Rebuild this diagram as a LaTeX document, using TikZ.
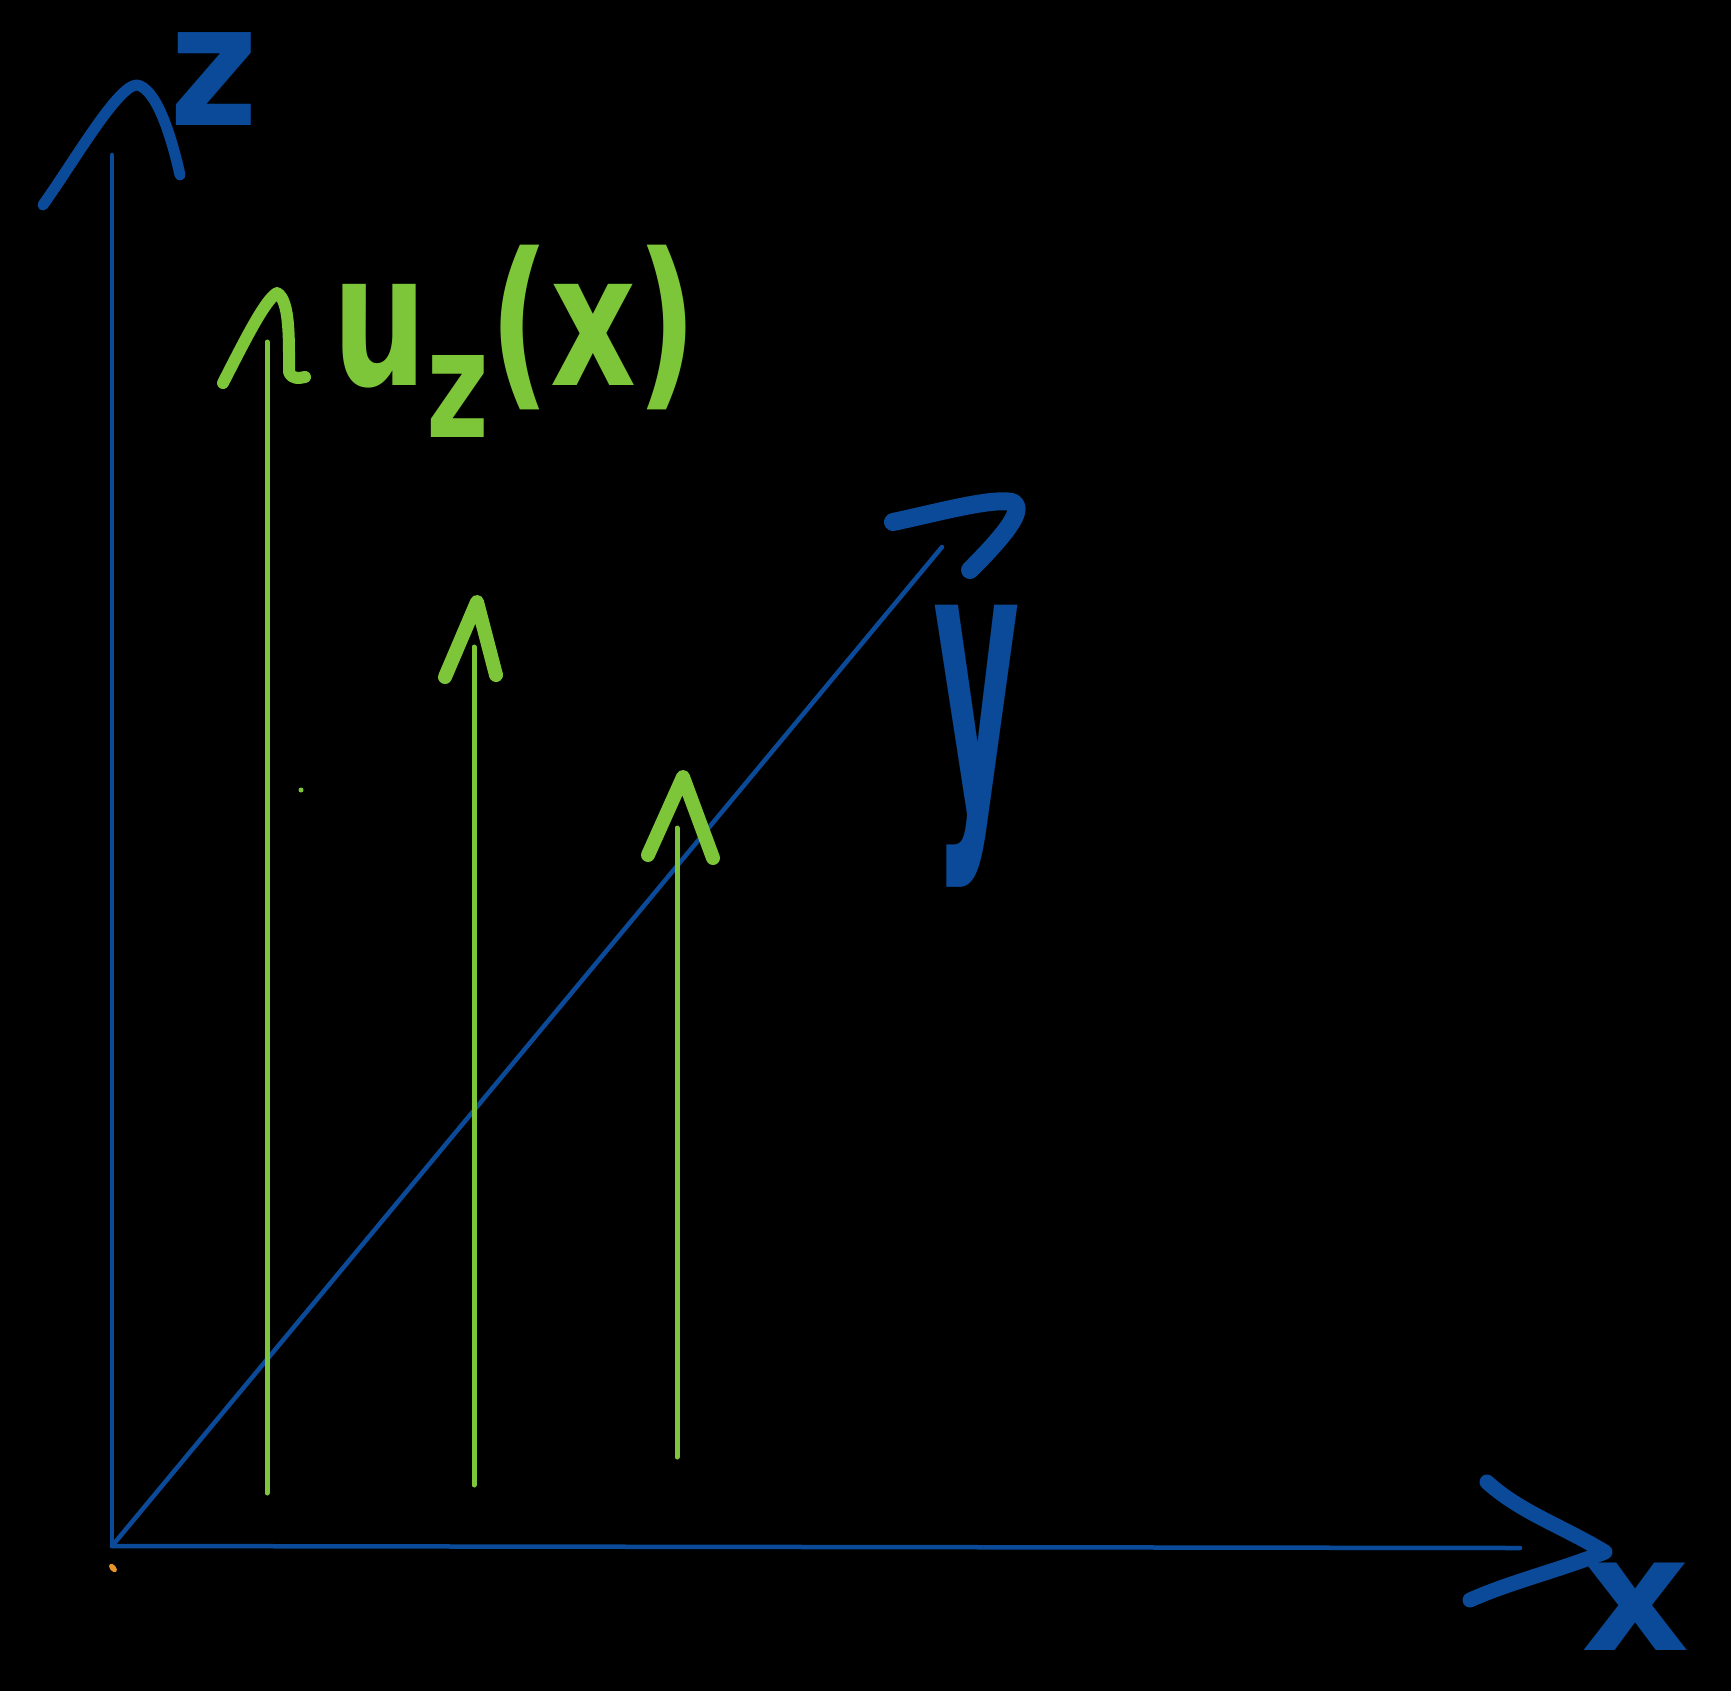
\documentclass[tikz,border=0pt]{standalone}
\usepackage{fontspec}
\setsansfont{DejaVu Sans}
\definecolor{axisblue}{RGB}{10,74,152}
\definecolor{fieldgreen}{RGB}{125,198,58}
\definecolor{dotorange}{RGB}{230,150,40}
\begin{document}
\begin{tikzpicture}[x=1pt,y=-1pt,
  axisline/.style={draw=axisblue,line width=4.5pt,line cap=round},
  headstroke/.style={draw=axisblue,line width=13pt,line cap=round,line join=round},
  fieldline/.style={draw=fieldgreen,line width=5pt,line cap=round},
  fieldhead/.style={draw=fieldgreen,line width=14pt,line cap=round,line join=round},
  axislabel/.style={text=axisblue,font=\fontsize{170}{170}\selectfont\sffamily\bfseries,inner sep=0pt,text height=0.6em,text depth=0pt},
]
\fill[black] (0,0) rectangle (1731,1691);
\useasboundingbox (0,0) rectangle (1731,1691);

% axes
\coordinate (O) at (112,1546);
\coordinate (zend) at (112,155);
\coordinate (xend) at (1520,1548);
\coordinate (yend) at (942,547);
\draw[axisline] (O) -- (zend);
\draw[axisline] (O) -- (xend);
\draw[axisline] (O) -- (yend);

% hand-drawn arrowheads of the axes
\draw[headstroke,line width=11pt] (43,205) .. controls (75,160) and (118,85) .. (137,85) .. controls (155,88) and (170,130) .. (180,175);
\draw[headstroke,line width=15pt] (1487,1482) .. controls (1520,1512) and (1560,1525) .. (1605,1552) .. controls (1560,1570) and (1510,1582) .. (1470,1600);
\draw[headstroke,line width=18pt] (893,522) .. controls (940,512) and (990,498) .. (1012,502) .. controls (1025,508) and (1010,530) .. (970,570);

% axis labels
\node[axislabel,anchor=base,xscale=0.9] (zlabel) at (214,126) {z};
\node[axislabel,font=\fontsize{160}{160}\selectfont\sffamily\bfseries,anchor=base,xscale=1.05] (xlabel) at (1636,1650) {x};
\node[axislabel,font=\fontsize{370}{370}\selectfont\sffamily\bfseries,text height=0.55em,text depth=0.24em,anchor=base,xscale=0.36] (ylabel) at (977,807) {y};

% field arrows
\coordinate (a1b) at (267,1493);
\coordinate (a1t) at (267,342);
\coordinate (a2b) at (474,1485);
\coordinate (a2t) at (474,647);
\coordinate (a3b) at (677,1457);
\coordinate (a3t) at (677,828);
\draw[fieldline] (a1b) -- (a1t);
\draw[fieldline] (a2b) -- (a2t);
\draw[fieldline] (a3b) -- (a3t);
\draw[fieldhead,line width=12pt] (223,383) .. controls (245,340) and (265,300) .. (277,293) .. controls (290,300) and (289,340) .. (289,372) .. controls (292,380) and (300,378) .. (305,377);
\draw[fieldhead] (445,677) -- (477,602) -- (496,675);
\draw[fieldhead] (648,855) -- (683,777) -- (713,858);

% label
\node[text=fieldgreen,font=\fontsize{185}{185}\selectfont\sffamily\bfseries,inner sep=0pt,anchor=base west,xscale=0.72] (ulabel) at (332,385) {u\raisebox{-52pt}{\fontsize{150}{150}\selectfont z}(x)};

% stray dots
\fill[fieldgreen] (301,790) circle (2.5);
\fill[dotorange,rotate around={40:(113,1568)}] (113,1568) ellipse (3 and 5);
\end{tikzpicture}
\end{document}
